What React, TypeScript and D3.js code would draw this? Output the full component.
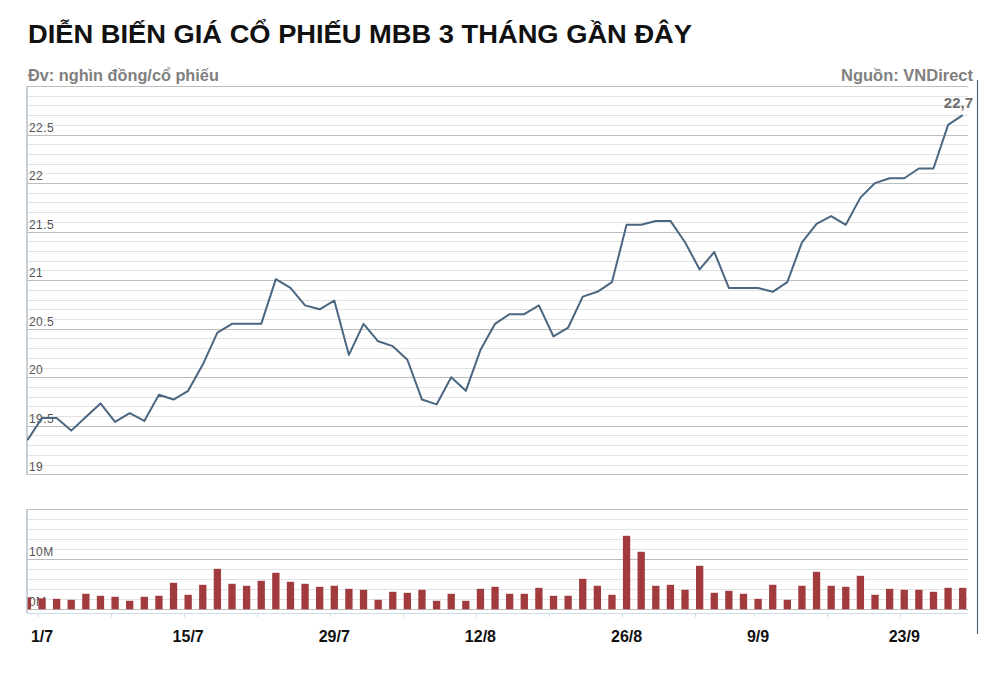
import React from "react";
import * as d3 from "d3";

const dates: string[] = [
  "28/6",
  "1/7", "2/7", "3/7", "4/7", "5/7",
  "8/7", "9/7", "10/7", "11/7", "12/7",
  "15/7", "16/7", "17/7", "18/7", "19/7",
  "22/7", "23/7", "24/7", "25/7", "26/7",
  "29/7", "30/7", "31/7", "1/8", "2/8",
  "5/8", "6/8", "7/8", "8/8", "9/8",
  "12/8", "13/8", "14/8", "15/8", "16/8",
  "19/8", "20/8", "21/8", "22/8", "23/8",
  "26/8", "27/8", "28/8", "29/8", "30/8",
  "3/9", "4/9", "5/9", "6/9",
  "9/9", "10/9", "11/9", "12/9", "13/9",
  "16/9", "17/9", "18/9", "19/9", "20/9",
  "23/9", "24/9", "25/9", "26/9", "27/9",
];

const prices: number[] = [
  19.35, 19.58, 19.58, 19.45, 19.59, 19.73, 19.54, 19.63, 19.55, 19.82,
  19.77, 19.86, 20.13, 20.46, 20.55, 20.55, 20.55, 21.01, 20.92, 20.74,
  20.70, 20.79, 20.23, 20.55, 20.37, 20.32, 20.18, 19.77, 19.72, 20.00,
  19.86, 20.28, 20.55, 20.65, 20.65, 20.74, 20.42, 20.51, 20.83, 20.88,
  20.98, 21.57, 21.57, 21.61, 21.61, 21.39, 21.11, 21.29, 20.92, 20.92,
  20.92, 20.88, 20.98, 21.39, 21.58, 21.66, 21.57, 21.85, 22.00, 22.05,
  22.05, 22.15, 22.15, 22.60, 22.70,
];

// volume in millions of shares
const volumes: number[] = [
  2.4, 2.2, 2.1, 1.9, 3.1, 2.7, 2.5, 1.7, 2.5, 2.7,
  5.3, 2.9, 4.9, 8.1, 5.1, 4.7, 5.7, 7.3, 5.5, 5.1,
  4.5, 4.7, 4.1, 3.9, 1.9, 3.5, 3.3, 3.9, 1.7, 3.1,
  1.7, 4.1, 4.5, 3.1, 3.1, 4.3, 2.7, 2.7, 6.1, 4.7,
  2.9, 14.7, 11.5, 4.7, 4.9, 3.9, 8.7, 3.3, 3.7, 3.1,
  2.1, 4.9, 1.9, 4.7, 7.5, 4.7, 4.5, 6.7, 2.9, 4.1,
  3.9, 3.9, 3.5, 4.3, 4.3,
];

const labelDates: string[] = ["1/7", "15/7", "29/7", "12/8", "26/8", "9/9", "23/9"];
const tickDates: string[] = ["1/7", "8/7", "15/7", "22/7", "29/7", "5/8", "12/8", "19/8", "26/8", "3/9", "9/9", "16/9", "23/9"];
const priceTicks: number[] = [19, 19.5, 20, 20.5, 21, 21.5, 22, 22.5];
const volumeTicks: number[] = [0, 10];

const title = "DIỄN BIẾN GIÁ CỔ PHIẾU MBB 3 THÁNG GẦN ĐÂY";
const unitText = "Đv: nghìn đồng/cổ phiếu";
const sourceText = "Nguồn: VNDirect";
const lastLabel = "22,7";

const W = 1007;
const H = 673;
const LEFT = 27;
const RIGHT = 968;

export default function App() {
  const x = d3.scaleLinear().domain([0, prices.length - 1]).range([27.4, 962.7]);
  const step = x(1) - x(0);
  const y = d3.scaleLinear().domain([19, 23]).range([474.3, 86]);
  const yv = d3.scaleLinear().domain([0, 20]).range([609.3, 509.3]);

  const priceGrid = d3.range(19, 23.0001, 0.1).map((v) => +v.toFixed(1));
  const volGrid = d3.range(0, 20.0001, 2);

  const line = d3
    .line<number>()
    .x((_, i) => x(i))
    .y((d) => y(d));

  const barW = step * 0.5;
  const font = "'Liberation Sans', Arial, sans-serif";

  return (
    <svg
      width={W}
      height={H}
      style={{ position: "absolute", left: 0, top: 0, background: "#fff" }}
      fontFamily={font}
    >
      <defs>
        <clipPath id="priceClip">
          <rect x={LEFT} y={80} width={RIGHT - LEFT} height={400} />
        </clipPath>
        <clipPath id="volClip">
          <rect x={LEFT} y={500} width={RIGHT - LEFT} height={112} />
        </clipPath>
      </defs>

      <text
        x={28}
        y={43}
        fontSize={26}
        fontWeight="bold"
        fill="#111"
        textLength={664}
        lengthAdjust="spacingAndGlyphs"
      >
        {title}
      </text>
      <text x={28} y={81} fontSize={16.3} fontWeight="bold" fill="#7f7f7f">
        {unitText}
      </text>
      <text x={973} y={81} fontSize={16.5} fontWeight="bold" fill="#7f7f7f" textAnchor="end">
        {sourceText}
      </text>

      {/* price grid */}
      {priceGrid.map((v) => {
        const major = Math.abs(v * 2 - Math.round(v * 2)) < 1e-6;
        return (
          <line
            key={"pg" + v}
            x1={LEFT}
            x2={RIGHT}
            y1={Math.round(y(v)) + 0.5}
            y2={Math.round(y(v)) + 0.5}
            stroke={major ? "#bdbdbd" : "#e2e2e2"}
            strokeWidth={1}
          />
        );
      })}
      {priceTicks.map((v) => (
        <text key={"pt" + v} x={29} y={y(v) - 3} fontSize={12} fill="#555" letterSpacing={0.4}>
          {String(v)}
        </text>
      ))}
      <line x1={LEFT} x2={LEFT} y1={86} y2={475} stroke="#b5c0c8" strokeWidth={1.5} />

      <path
        d={line(prices) || ""}
        fill="none"
        stroke="#4b6680"
        strokeWidth={2}
        strokeLinejoin="round"
        clipPath="url(#priceClip)"
      />
      <text
        x={973}
        y={108}
        fontSize={15}
        fontWeight="bold"
        fill="#6e6e6e"
        textAnchor="end"
      >
        {lastLabel}
      </text>

      {/* volume grid */}
      {volGrid.map((v) => {
        const major = v % 10 === 0;
        return (
          <line
            key={"vg" + v}
            x1={LEFT}
            x2={RIGHT}
            y1={Math.round(yv(v)) + 0.5}
            y2={Math.round(yv(v)) + 0.5}
            stroke={major ? "#bdbdbd" : "#e2e2e2"}
            strokeWidth={1}
          />
        );
      })}
      {volumeTicks.map((v) => (
        <text key={"vt" + v} x={29} y={yv(v) - 3} fontSize={12} fill="#555" letterSpacing={0.4}>
          {v + "M"}
        </text>
      ))}
      <g clipPath="url(#volClip)">
        {volumes.map((v, i) => (
          <rect
            key={"b" + i}
            x={x(i) - barW / 2}
            y={yv(v)}
            width={barW}
            height={yv(0) - yv(v)}
            fill="#a23b3d"
          />
        ))}
      </g>
      <line x1={LEFT} x2={LEFT} y1={509} y2={613} stroke="#b5c0c8" strokeWidth={1.5} />
      <line x1={LEFT} x2={RIGHT} y1={613.5} y2={613.5} stroke="#cbdde8" strokeWidth={1} />
      {tickDates.map((d) => {
        const i = dates.indexOf(d);
        const tx = Math.round(x(i - 0.3)) + 0.5;
        return <line key={"tk" + d} x1={tx} x2={tx} y1={613} y2={617} stroke="#cbdde8" />;
      })}
      {labelDates.map((d) => {
        const i = dates.indexOf(d);
        return (
          <text
            key={"xl" + d}
            x={x(i)}
            y={642}
            fontSize={16}
            fontWeight="bold"
            fill="#111"
            textAnchor="middle"
          >
            {d}
          </text>
        );
      })}

      {/* right border */}
      <line x1={977.5} x2={977.5} y1={80} y2={634} stroke="#4f6477" strokeWidth={1.2} />
    </svg>
  );
}
